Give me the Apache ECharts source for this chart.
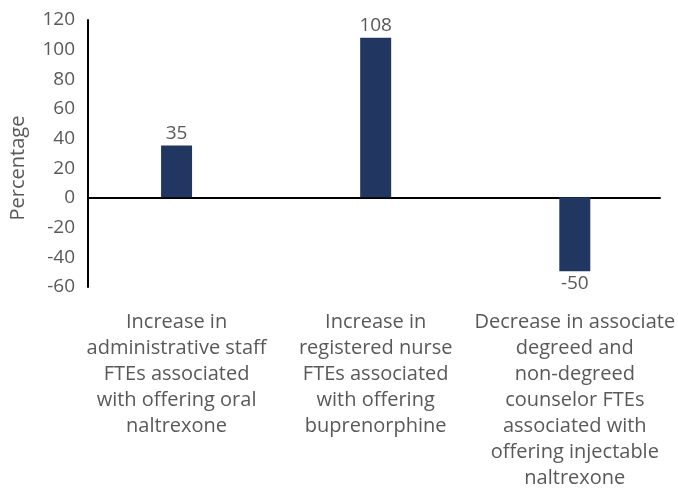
<!DOCTYPE html>
<html>
<head>
<meta charset="utf-8">
<script src="https://cdn.jsdelivr.net/npm/echarts@6/dist/echarts.min.js"></script>
<style>
html,body{margin:0;padding:0;background:#fff;}
#chart{width:678px;height:491px;}
</style>
</head>
<body>
<div id="chart"></div>
<script>
const categories = [
  'Increase in\nadministrative staff\nFTEs associated\nwith offering oral\nnaltrexone',
  'Increase in\nregistered nurse\nFTEs associated\nwith offering\nbuprenorphine',
  'Decrease in associate\ndegreed and\nnon-degreed\ncounselor FTEs\nassociated with\noffering injectable\nnaltrexone'
];
const values = [35, 108, -50];
const yMin = -60, yMax = 120, yStep = 20;

const font = 'Open Sans';
const grey = '#595959';
const chart = echarts.init(document.getElementById('chart'));
chart.setOption({
  animation: false,
  grid: [
    {left: 77, right: 3, top: 20, bottom: 204},
    {left: 87, right: 18, top: 20, bottom: 204}
  ],
  xAxis: [
    {
      type: 'category', gridIndex: 0, data: categories, position: 'bottom',
      axisLine: {show: false, onZero: false}, axisTick: {show: false},
      axisLabel: {
        interval: 0, margin: 23, color: grey, fontFamily: font, fontSize: 20,
        lineHeight: 26, align: 'center', verticalAlign: 'top'
      }
    },
    {
      type: 'value', gridIndex: 1, min: 0, max: 1,
      axisLine: {show: true, onZero: true, lineStyle: {color: '#000', width: 2}},
      axisTick: {show: false}, axisLabel: {show: false}, splitLine: {show: false}
    }
  ],
  yAxis: [
    {
      type: 'value', gridIndex: 0, min: yMin, max: yMax, interval: yStep,
      show: false, splitLine: {show: false}
    },
    {
      type: 'value', gridIndex: 1, min: yMin, max: yMax, interval: yStep,
      name: 'Percentage', nameLocation: 'middle', nameGap: 60, nameRotate: 90,
      nameTextStyle: {color: grey, fontFamily: font, fontSize: 20, padding: [0, 29, 0, 0]},
      axisLine: {show: true, lineStyle: {color: '#000', width: 2}},
      axisTick: {show: false}, splitLine: {show: false},
      axisLabel: {color: grey, fontFamily: font, fontSize: 19, margin: 13}
    }
  ],
  series: [{
    type: 'bar', xAxisIndex: 0, yAxisIndex: 0, barWidth: 31,
    data: values.map(v => v < 0 ? {value: v, label: {position: 'bottom'}} : v),
    itemStyle: {color: '#213761'},
    label: {show: true, position: 'top', distance: 3, color: grey, fontFamily: font, fontSize: 19}
  }]
});
</script>
</body>
</html>
